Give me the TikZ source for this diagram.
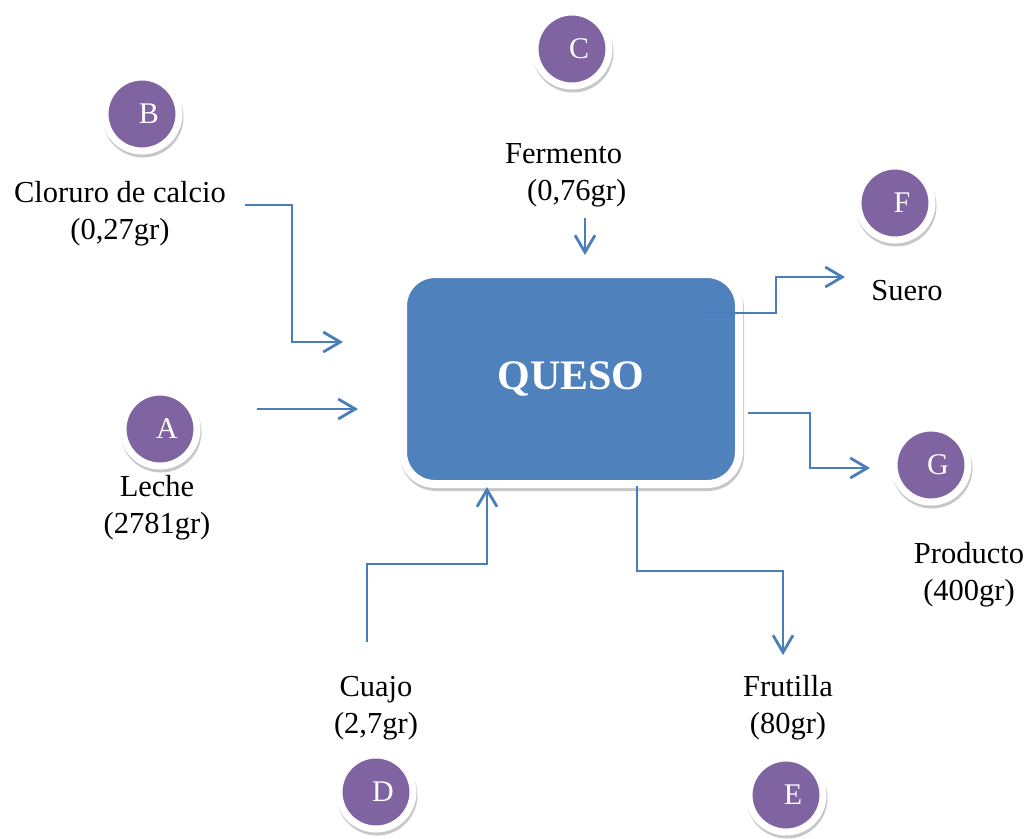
\documentclass[tikz,border=0pt]{standalone}
\usepackage{fontspec}
\setmainfont{Liberation Serif}
\usetikzlibrary{arrows.meta,shadows}
\definecolor{azul}{HTML}{4F81BD}
\definecolor{linea}{HTML}{4A7EBB}
\definecolor{morado}{HTML}{8064A2}
\begin{document}
\begin{tikzpicture}[x=1pt, y=-1pt,
      sombra/.style = {drop shadow={draw=black, fill=black, opacity=0.22,
        line width=#1, shadow xshift=1pt, shadow yshift=-3pt}},
      caja/.style = {draw=white, line width=8pt, fill=azul, rounded corners=32pt,
        minimum width=336pt, minimum height=210pt, sombra=8pt,
        text=white, font=\fontsize{42}{48}\selectfont\bfseries},
      circulo/.style = {draw=white, line width=7pt, fill=morado, circle, minimum size=74pt,
        inner sep=0pt, text=white, font=\fontsize{30}{32}\selectfont, sombra=7pt,
        execute at begin node=\hspace*{14pt}},
      texto/.style = {align=center, inner sep=0pt, font=\fontsize{30.5}{37}\selectfont},
      flecha/.style = {draw=linea, line width=2.8pt,
        -{Straight Barb[length=17pt, width=20pt, line width=2.8pt]}}]
    \useasboundingbox (0,0) rectangle (1030,838);

    % nodes
    \node[caja] (queso) at (571, 379) {QUESO};

    \node[circulo] (a) at (160, 429) {A};
    \node[circulo] (b) at (142, 114) {B};
    \node[circulo] (c) at (572, 49) {C};
    \node[circulo] (d) at (376, 792) {D};
    \node[circulo] (e) at (786, 795) {E};
    \node[circulo] (f) at (895, 203) {F};
    \node[circulo] (g) at (931, 465) {G};

    \node[texto] (leche) at (157, 508) {Leche\\(2781gr)};
    \node[texto] (cloruro) at (120, 214) {Cloruro de calcio\\(0,27gr)};
    \node[texto, align=left, anchor=west] (fermento) at (505, 175) {Fermento\\\hspace*{22pt}(0,76gr)};
    \node[texto] (cuajo) at (376, 708) {Cuajo\\(2,7gr)};
    \node[texto] (frutilla) at (788, 708) {Frutilla\\(80gr)};
    \node[texto] (suero) at (907, 291) {Suero};
    \node[texto] (producto) at (969, 575) {Producto\\(400gr)};

    % free ends
    \coordinate (aIni) at (257, 409);
    \coordinate (aFin) at (358, 409);
    \coordinate (bIni) at (245, 205);
    \coordinate (bFin) at (343, 342);
    \coordinate (cIni) at (585, 218);
    \coordinate (cFin) at (585, 255);
    \coordinate (dIni) at (367, 642);
    \coordinate (dFin) at (487, 487);
    \coordinate (eIni) at (637, 486);
    \coordinate (eFin) at (783, 655);
    \coordinate (fIni) at (703, 313);
    \coordinate (fFin) at (845, 277);
    \coordinate (gIni) at (748, 413);
    \coordinate (gFin) at (870, 468);

    % flows
    \draw[flecha] (aIni) -- (aFin);
    \draw[flecha] (bIni) -- ++(47, 0) |- (bFin);
    \draw[flecha] (cIni) -- (cFin);
    \draw[flecha] (dIni) -- ++(0, -78) -| (dFin);
    \draw[flecha] (eIni) -- ++(0, 85) -| (eFin);
    \draw[flecha] (fIni) -- ++(73, 0) |- (fFin);
    \draw[flecha] (gIni) -- ++(62, 0) |- (gFin);
  \end{tikzpicture}
\end{document}
